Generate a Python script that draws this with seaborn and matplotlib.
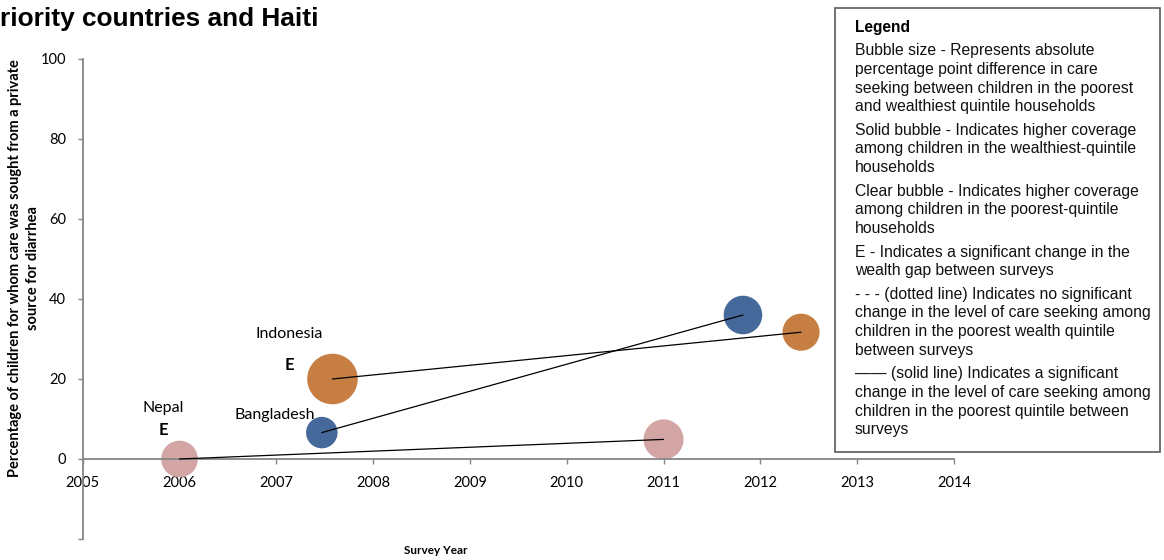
import matplotlib
matplotlib.use("Agg")
import matplotlib.pyplot as plt
from matplotlib.patches import Rectangle
import pandas as pd
import seaborn as sns

# Survey rounds: care sought from a private source for diarrhea
countries = ["Nepal", "Nepal", "Bangladesh", "Bangladesh", "Indonesia", "Indonesia"]
survey_year = [2006.0, 2011.0, 2007.47, 2011.82, 2007.58, 2012.42]
pct_private = [0.0, 4.9, 6.6, 36.0, 20.0, 31.7]
wealth_gap = [8.4, 10.0, 6.2, 9.3, 16.0, 8.6]

country_colors = {"Nepal": "#D4A5A5", "Bangladesh": "#44699A", "Indonesia": "#C77E43"}

x_ticks = list(range(2005, 2015))
y_ticks = [-20, 0, 20, 40, 60, 80, 100]
y_tick_labels = ["", "0", "20", "40", "60", "80", "100"]

legend_title = "Legend"
legend_paragraphs = [
    ["Bubble size - Represents absolute",
     "percentage point difference in care",
     "seeking between children in the poorest",
     "and wealthiest quintile households"],
    ["Solid bubble - Indicates higher coverage",
     "among children in the wealthiest-quintile",
     "households"],
    ["Clear bubble - Indicates higher coverage",
     "among children in the poorest-quintile",
     "households"],
    ["E - Indicates a significant change in the",
     "wealth gap between surveys"],
    ["- - - (dotted line) Indicates no significant",
     "change in the level of care seeking among",
     "children in the poorest wealth quintile",
     "between surveys"],
    ["\u2014\u2014 (solid line) Indicates a significant",
     "change in the level of care seeking among",
     "children in the poorest quintile between",
     "surveys"],
]

df = pd.DataFrame({
    "country": countries,
    "year": survey_year,
    "pct": pct_private,
    "gap": wealth_gap,
})

sns.set_theme(style="white")
plt.rcParams["font.family"] = ["Lato", "DejaVu Sans"]
plt.rcParams["text.color"] = "black"

W, H = 1164, 560
fig = plt.figure(figsize=(W / 100, H / 100), dpi=100)

def fx(px):
    return px / W

def fy(py):
    return 1 - py / H

ax = fig.add_axes([fx(82.7), fy(539), fx(954) - fx(82.7), fy(59) - fy(539)])

sns.scatterplot(data=df, x="year", y="pct", hue="country", palette=country_colors,
                size="gap", sizes=(0, 1658), size_norm=(0, 20),
                linewidth=0, alpha=1, legend=False, ax=ax, zorder=1)
sns.lineplot(data=df, x="year", y="pct", units="country", estimator=None,
             color="black", linewidth=0.9, sort=False, legend=False, ax=ax, zorder=3)

ax.set_xlim(2005, 2014)
ax.set_ylim(-20, 100)
ax.set_xticks(x_ticks)
ax.set_xticklabels([str(t) for t in x_ticks])
ax.set_yticks(y_ticks)
ax.set_yticklabels(y_tick_labels)
ax.set_xlabel("")
ax.set_ylabel("")

axis_gray = "#868686"
for side in ["top", "right"]:
    ax.spines[side].set_visible(False)
ax.spines["bottom"].set_position(("data", 0))
for side in ["left", "bottom"]:
    ax.spines[side].set_color(axis_gray)
    ax.spines[side].set_linewidth(1.3)
ax.tick_params(axis="x", direction="out", length=3.5, width=1, color=axis_gray,
               pad=9, labelsize=10.5, labelcolor="black", bottom=True)
ax.tick_params(axis="y", direction="out", length=3.5, width=1, color=axis_gray,
               pad=8.5, labelsize=10.5, labelcolor="black", left=True)
ax.grid(False)

# Country and significance labels placed relative to each first survey point
first = df.groupby("country", sort=False).first()
label_offsets = {"Nepal": (-11.5, 36.5), "Bangladesh": (-34, 12.7), "Indonesia": (-31.5, 32.4)}
e_offsets = {"Nepal": (-11.5, 20.7), "Indonesia": (-30.7, 10.3)}
for name, (dx, dy) in label_offsets.items():
    ax.annotate(name, (first.loc[name, "year"], first.loc[name, "pct"]),
                xytext=(dx, dy), textcoords="offset points", ha="center", va="center",
                fontsize=11.5, color="black")
for name, (dx, dy) in e_offsets.items():
    ax.annotate("E", (first.loc[name, "year"], first.loc[name, "pct"]),
                xytext=(dx, dy), textcoords="offset points", ha="center", va="center",
                fontsize=12, fontweight="bold", color="black")

# Title, axis titles
fig.text(fx(0), fy(19), "riority countries and Haiti", ha="left", va="center",
         fontsize=18.9, fontweight="bold", color="black",
         family=["Liberation Sans", "DejaVu Sans"])
fig.text(fx(24), fy(268),
         "Percentage of children for whom care was sought from a private\nsource for diarrhea",
         rotation=90, ha="center", va="center", multialignment="center",
         fontsize=10.5, fontweight="bold", linespacing=1.3, color="black")
fig.text(fx(436), fy(551), "Survey Year", ha="center", va="center",
         fontsize=8.5, fontweight="bold", color="black")

# Explanatory key box
fig.add_artist(Rectangle((fx(835), fy(452)), fx(1160) - fx(835), fy(8) - fy(452),
                         transform=fig.transFigure, facecolor="white",
                         edgecolor="#5a5a5a", linewidth=1.2, zorder=5))
key_font = ["Liberation Sans", "DejaVu Sans"]
fig.text(fx(855), fy(27.3), legend_title, ha="left", va="center", fontsize=11.2,
         fontweight="bold", family=key_font, color="black", zorder=6)
y = 50.7
for para in legend_paragraphs:
    for line in para:
        fig.text(fx(855), fy(y), line, ha="left", va="center", fontsize=11.3,
                 family=key_font, color="#111111", zorder=6)
        y += 18.7
    y += 4.8

fig.savefig("out.png", dpi=100)
